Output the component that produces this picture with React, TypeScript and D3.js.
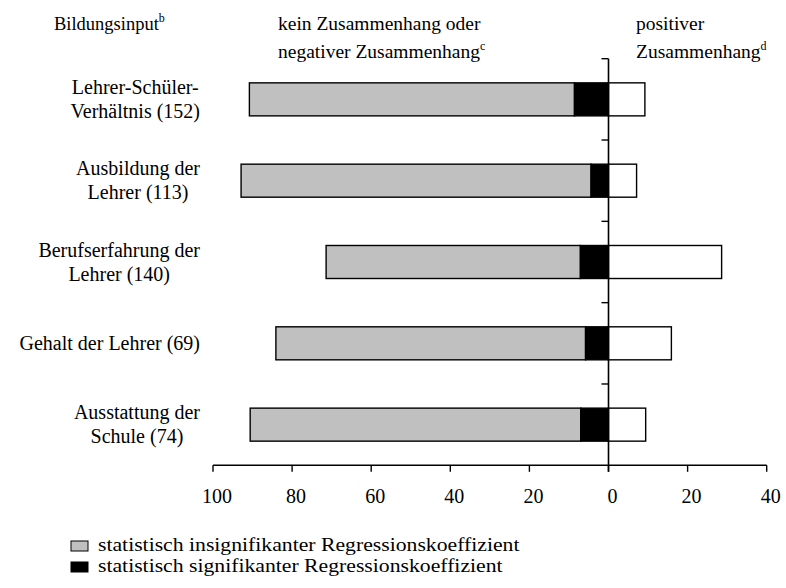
import React from "react";
import * as d3 from "d3";

const categories = [
  ["Lehrer-Schüler-", "Verhältnis (152)"],
  ["Ausbildung der", "Lehrer (113)"],
  ["Berufserfahrung der", "Lehrer (140)"],
  ["Gehalt der Lehrer (69)"],
  ["Ausstattung der", "Schule (74)"],
];
// percentages of regression coefficients
const insignificant = [82.2, 88.5, 64.3, 78.3, 83.6];
const significantNeg = [8.6, 4.4, 7.1, 5.8, 7.0];
const positive = [9.2, 7.1, 28.6, 15.9, 9.4];
const tickValues = [-100, -80, -60, -40, -20, 0, 20, 40];
const legendLabels = [
  "statistisch insignifikanter Regressionskoeffizient",
  "statistisch signifikanter Regressionskoeffizient",
];
const legendColors = ["#c0c0c0", "#000000"];

const FONT = "'Liberation Serif', 'Times New Roman', serif";

let ctx: CanvasRenderingContext2D | null = null;
function measure(text: string, size: number) {
  if (!ctx) ctx = document.createElement("canvas").getContext("2d");
  if (!ctx) return text.length * size * 0.45;
  ctx.font = `${size}px "Liberation Serif"`;
  return ctx.measureText(text).width;
}

export default function App() {
  const width = 786;
  const height = 588;
  const x = d3.scaleLinear().domain([-100, 40]).range([213, 766.7]);
  const yTop = 58.7;
  const yBottom = 465.3;
  const y = d3
    .scaleBand<number>()
    .domain(d3.range(categories.length))
    .range([yTop, yBottom])
    .paddingInner(0.594)
    .paddingOuter(0.297);
  const step = y.step();
  const axisY = yBottom;
  const x0 = x(0);
  const labelSize = 20;
  const labelRight = 200;
  const legendSize = 18.5;
  const legendScale = 21.7 / 18.5; // wider serif glyphs in the original legend

  return (
    <svg width={width} height={height} style={{ position: "absolute", left: 0, top: 0 }} fontFamily={FONT}>
      <rect width={width} height={height} fill="#fff" />
      {/* headers */}
      <text x={54} y={30} fontSize={18.5}>
        Bildungsinput<tspan fontSize={12} dy={-8}>b</tspan>
      </text>
      <text x={278} y={30} fontSize={19.5}>kein Zusammenhang oder</text>
      <text x={278} y={58} fontSize={19.5}>
        negativer Zusammenhang<tspan fontSize={12} dy={-8}>c</tspan>
      </text>
      <text x={636} y={30} fontSize={19.5}>positiver</text>
      <text x={636} y={58} fontSize={19.5}>
        Zusammenhang<tspan fontSize={12} dy={-8}>d</tspan>
      </text>

      {/* category labels: block right-aligned, lines centred within block */}
      {categories.map((lines, i) => {
        const c = (y(i) as number) + y.bandwidth() / 2;
        const n = lines.length;
        const maxW = d3.max(lines, (l) => measure(l, labelSize)) as number;
        const cx = labelRight - maxW / 2;
        return (
          <text key={i} textAnchor="middle" fontSize={labelSize}>
            {lines.map((l, j) => (
              <tspan key={j} x={cx} y={c + (j - (n - 1) / 2) * 24 + 6.5}>
                {l}
              </tspan>
            ))}
          </text>
        );
      })}

      {/* bars */}
      {categories.map((_, i) => {
        const top = y(i) as number;
        const h = y.bandwidth();
        const neg = insignificant[i] + significantNeg[i];
        return (
          <g key={i}>
            <rect x={x(-neg)} y={top} width={x(-significantNeg[i]) - x(-neg)} height={h} fill="#c0c0c0" stroke="#000" strokeWidth={1.4} />
            <rect x={x(-significantNeg[i])} y={top} width={x0 - x(-significantNeg[i])} height={h} fill="#000" stroke="#000" strokeWidth={1.4} />
            <rect x={x0} y={top} width={x(positive[i]) - x0} height={h} fill="#fff" stroke="#000" strokeWidth={1.4} />
          </g>
        );
      })}

      {/* vertical zero line with category boundary ticks */}
      <line x1={x0} x2={x0} y1={yTop} y2={axisY + 6.5} stroke="#000" strokeWidth={1.6} />
      {d3.range(categories.length).map((i) => (
        <line key={i} x1={x0 - 7} x2={x0} y1={yTop + i * step} y2={yTop + i * step} stroke="#000" strokeWidth={1.4} />
      ))}

      {/* x axis */}
      <line x1={x(-100)} x2={x(40)} y1={axisY} y2={axisY} stroke="#000" strokeWidth={1.5} />
      {tickValues.map((t) => (
        <g key={t}>
          <line x1={x(t)} x2={x(t)} y1={axisY} y2={axisY + 6.5} stroke="#000" strokeWidth={1.4} />
          <text x={x(t) + 4} y={503} textAnchor="middle" fontSize={20}>
            {Math.abs(t)}
          </text>
        </g>
      ))}

      {/* legend */}
      {legendLabels.map((l, i) => (
        <g key={l}>
          <rect x={71} y={541 + i * 21} width={17} height={10} fill={legendColors[i]} stroke="#000" strokeWidth={1} />
          <text
            x={98}
            y={550.5 + i * 21}
            fontSize={legendSize}
            textLength={measure(l, legendSize) * legendScale}
            lengthAdjust="spacingAndGlyphs"
          >
            {l}
          </text>
        </g>
      ))}
    </svg>
  );
}
